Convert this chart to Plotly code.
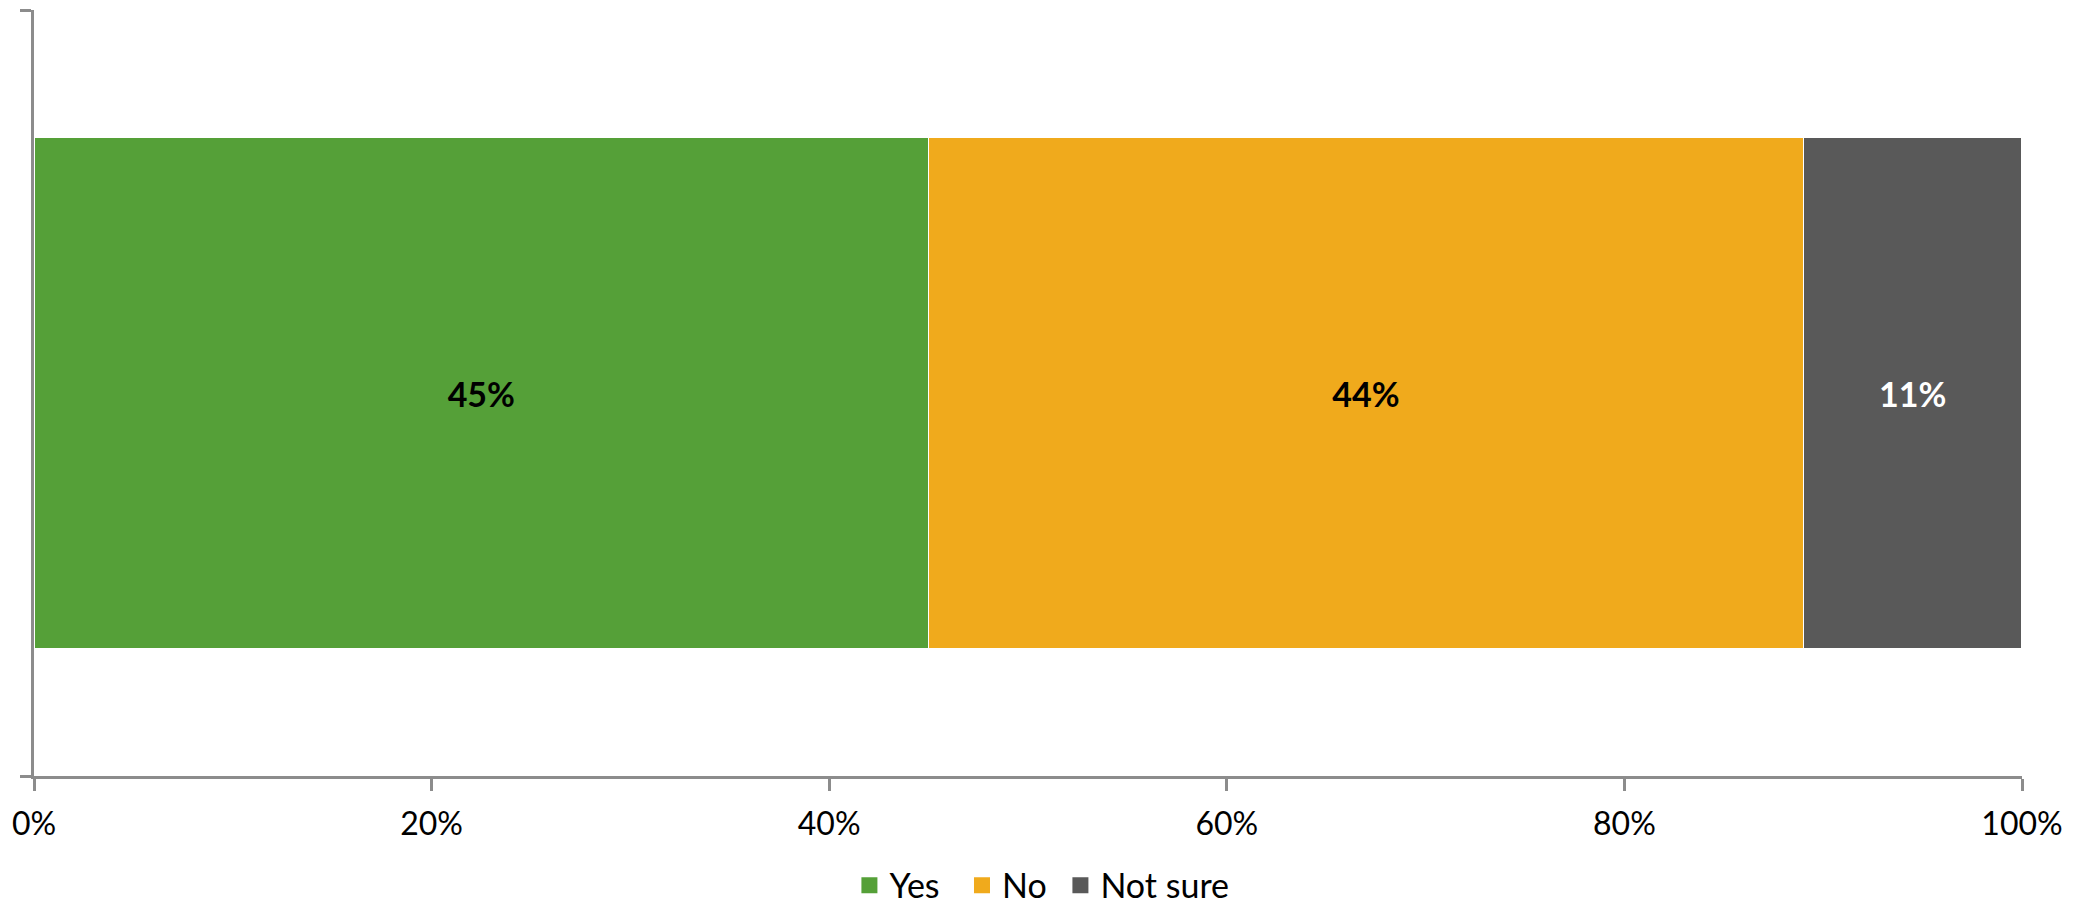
import plotly.graph_objects as go

# survey answers, share of respondents
category = [""]
yes = [0.45]
no = [0.44]
not_sure = [0.11]

series = [
    ("Yes", yes, "#55A038", "#000000"),
    ("No", no, "#F0AA1C", "#000000"),
    ("Not sure", not_sure, "#595959", "#FFFFFF"),
]
# a little extra room after each legend entry, like the original
legend_pad = {"Yes": "\u00a0\u00a0", "No": "\u00a0", "Not sure": ""}

fig = go.Figure()
for name, vals, col, txtcol in series:
    fig.add_trace(go.Bar(
        name=name, y=category, x=vals, orientation="h",
        marker=dict(color=col, line=dict(color="white", width=1.5)),
        text=[f"{v:.0%}" for v in vals],
        textposition="inside", insidetextanchor="middle", textangle=0,
        textfont=dict(family="Lato", size=34, color=txtcol, weight="bold"),
        hoverinfo="skip", showlegend=False,
    ))
    # legend entry with a bigger square swatch
    fig.add_trace(go.Scatter(
        name=name + legend_pad[name], x=[None], y=[None], mode="markers",
        marker=dict(symbol="square", size=22, color=col),
        showlegend=True, hoverinfo="skip",
    ))

# page body has an 8px margin, so the figure is a bit smaller than the window
fig.update_layout(
    barmode="stack",
    bargap=0.332,
    width=2076, height=901,
    margin=dict(l=26, r=62, t=2, b=133),
    paper_bgcolor="white", plot_bgcolor="white",
    font=dict(family="Lato", size=30, color="#000000"),
    showlegend=True,
    legend=dict(orientation="h", x=0.507, xanchor="center",
                yref="container", y=0.026, yanchor="middle",
                font=dict(size=34), traceorder="normal",
                itemsizing="trace", itemwidth=30),
    xaxis=dict(range=[0, 1], tickformat=".0%", dtick=0.2, tick0=0,
               showline=True, linecolor="#8C8C8C", linewidth=3,
               ticks="outside", ticklen=12, tickwidth=3, tickcolor="#8C8C8C",
               showgrid=False, zeroline=False, fixedrange=True,
               ticklabelstandoff=6, automargin=False,
               tickfont=dict(size=32)),
    yaxis=dict(showline=True, linecolor="#8C8C8C", linewidth=3,
               ticks="outside", tickson="boundaries", ticklen=11, tickwidth=3,
               tickcolor="#8C8C8C", showticklabels=False, showgrid=False,
               fixedrange=True, automargin=False),
)

fig.write_html("out.html")
